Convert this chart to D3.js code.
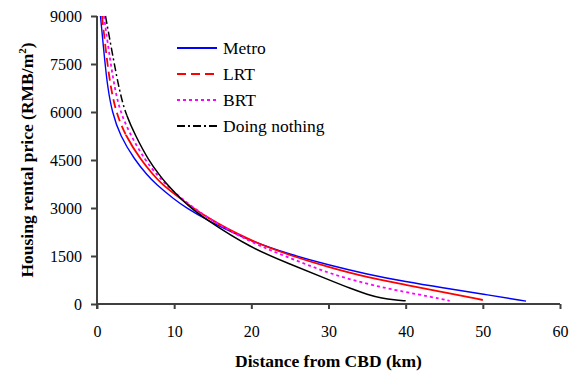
<!DOCTYPE html>
<html lang="en">
<head>
  <meta charset="UTF-8">
  <title>Housing rental price vs distance from CBD</title>
  <style>
    body { margin: 0; background: #fff; }
    svg { display: block; font-family: "Liberation Serif", "Times New Roman", serif; }
    .axis path, .axis line { stroke: #404040; stroke-width: 2; }
    .title { font-size: 17.5px; font-weight: bold; }
    .legend text { font-size: 17.5px; }
  </style>
</head>
<body>
  <svg id="chart" width="578" height="376"></svg>

  <script src="https://d3js.org/d3.v7.min.js"></script>
  <script>
    // values: distance (km) and rental price (RMB/m2)
    const metroKm    = [0.45, 1.04, 1.4, 1.95, 3.0, 4.9, 6.5, 7.6, 10, 11.6, 14, 20, 25, 30, 35, 40, 45, 50, 55.6];
    const metroPrice = [9000, 7500, 6750, 6000, 5250, 4500, 4030, 3750, 3270, 3000, 2650, 1950, 1550, 1220, 930, 695, 500, 310, 90];

    const lrtKm    = [0.65, 1.34, 1.8, 2.45, 3.7, 5.7, 7.3, 8.4, 10, 14, 20, 25, 30, 35, 40, 45, 50];
    const lrtPrice = [9000, 7500, 6750, 6000, 5250, 4500, 4030, 3750, 3440, 2710, 1960, 1520, 1150, 830, 600, 365, 125];

    const brtKm    = [0.9, 1.77, 2.3, 3.0, 4.4, 6.22, 7.9, 8.9, 10, 14, 20, 25, 30, 35, 40, 43, 45.7];
    const brtPrice = [9000, 7500, 6750, 6000, 5250, 4500, 4000, 3750, 3480, 2720, 1910, 1440, 960, 620, 370, 240, 100];

    const nothingKm    = [1.1, 2.24, 2.85, 3.6, 5.0, 6.65, 8.25, 8.9, 10, 11.8, 14, 20, 25, 30, 33, 35, 37, 38.5, 40];
    const nothingPrice = [9000, 7500, 6750, 6000, 5250, 4500, 3980, 3790, 3500, 3070, 2660, 1740, 1250, 760, 470, 300, 175, 125, 100];

    const seriesNames = ["Metro", "LRT", "BRT", "Doing nothing"];
    const xTicks = [0, 10, 20, 30, 40, 50, 60];
    const yTicks = [0, 1500, 3000, 4500, 6000, 7500, 9000];

    const series = [
      { name: seriesNames[0], km: metroKm, price: metroPrice, color: "#0000ff", width: 1.4, dash: null, dashAbove: null },
      { name: seriesNames[1], km: lrtKm, price: lrtPrice, color: "#ff0000", width: 1.8, dash: "9,5", dashAbove: 5300 },
      { name: seriesNames[2], km: brtKm, price: brtPrice, color: "#ff00ff", width: 1.8, dash: "3,3", dashAbove: 0 },
      { name: seriesNames[3], km: nothingKm, price: nothingPrice, color: "#000000", width: 1.5, dash: "8,3,2,3", dashAbove: 5900 }
    ];

    const svg = d3.select("#chart");
    const margin = { left: 97, right: 18, top: 16, bottom: 72 };
    const width = 578, height = 376;

    const x = d3.scaleLinear().domain([0, 60]).range([margin.left, width - margin.right]);
    const y = d3.scaleLinear().domain([0, 9000]).range([height - margin.bottom, margin.top]);

    const styleTicks = g => g.selectAll("text")
      .attr("font-family", "'Liberation Serif', 'Times New Roman', serif")
      .attr("font-size", 16)
      .attr("fill", "#000");

    // axes (no box, outward ticks)
    svg.append("g")
      .attr("class", "axis")
      .attr("transform", `translate(0,${y(0)})`)
      .call(d3.axisBottom(x).tickValues(xTicks).tickFormat(d3.format("d"))
        .tickSize(5).tickPadding(17).tickSizeOuter(0))
      .call(styleTicks)
      .call(g => g.select(".domain").attr("d", `M${x(0)},0H${x(60)}`));

    svg.append("g")
      .attr("class", "axis")
      .attr("transform", `translate(${x(0)},0)`)
      .call(d3.axisLeft(y).tickValues(yTicks).tickFormat(d3.format("d"))
        .tickSize(6).tickPadding(9).tickSizeOuter(0))
      .call(styleTicks)
      .call(g => g.select(".domain").attr("d", `M0,${y(9000)}V${y(0) + 5}`));

    const line = d3.line()
      .x(d => x(d[0]))
      .y(d => y(d[1]))
      .curve(d3.curveBasis);

    const defs = svg.append("defs");

    series.forEach((s, i) => {
      const pts = s.km.map((k, j) => [k, s.price[j]]);
      const pathD = line(pts);
      if (s.dash && s.dashAbove > 0) {
        // dashed where the curve is steep, drawn solid further out
        const cut = y(s.dashAbove);
        defs.append("clipPath").attr("id", "top" + i)
          .append("rect").attr("x", 0).attr("y", 0).attr("width", width).attr("height", cut);
        defs.append("clipPath").attr("id", "bot" + i)
          .append("rect").attr("x", 0).attr("y", cut).attr("width", width).attr("height", height - cut);
        svg.append("path").attr("d", pathD).attr("fill", "none")
          .attr("stroke", s.color).attr("stroke-width", s.width)
          .attr("stroke-dasharray", s.dash).attr("clip-path", `url(#top${i})`);
        svg.append("path").attr("d", pathD).attr("fill", "none")
          .attr("stroke", s.color).attr("stroke-width", s.width)
          .attr("clip-path", `url(#bot${i})`);
      } else {
        svg.append("path").attr("d", pathD).attr("fill", "none")
          .attr("stroke", s.color).attr("stroke-width", s.width)
          .attr("stroke-dasharray", s.dash);
      }
    });

    // legend
    const legend = svg.append("g").attr("class", "legend");
    series.forEach((s, i) => {
      const ly = 48 + i * 26;
      legend.append("line")
        .attr("x1", 177).attr("x2", 217).attr("y1", ly).attr("y2", ly)
        .attr("stroke", s.color).attr("stroke-width", 2)
        .attr("stroke-dasharray", s.dash);
      legend.append("text")
        .attr("x", 223).attr("y", ly + 6)
        .text(s.name);
    });

    // axis titles
    svg.append("text")
      .attr("class", "title")
      .attr("x", (x(0) + x(60)) / 2)
      .attr("y", 367)
      .attr("text-anchor", "middle")
      .text("Distance from CBD (km)");

    const yt = svg.append("text")
      .attr("class", "title")
      .attr("transform", `translate(33,${(y(0) + y(9000)) / 2}) rotate(-90)`)
      .attr("text-anchor", "middle");
    yt.append("tspan").text("Housing rental price (RMB/m");
    yt.append("tspan").attr("font-size", "11px").attr("dy", -7).text("2");
    yt.append("tspan").attr("dy", 7).text(")");
  </script>
</body>
</html>
